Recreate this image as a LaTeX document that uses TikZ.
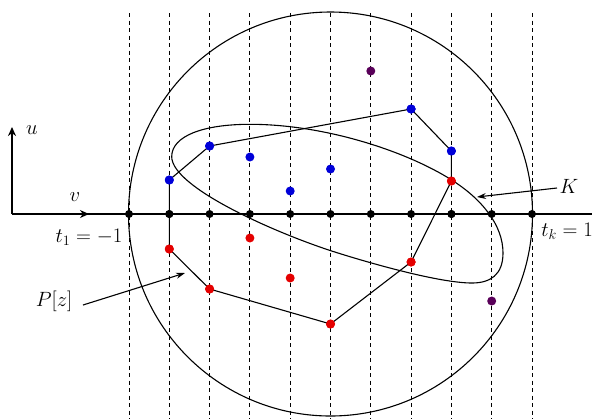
\documentclass[tikz,border=0pt]{standalone}
\usetikzlibrary{arrows.meta}
\begin{document}
\begin{tikzpicture}[x=1bp,y=-1bp,
  grid/.style={dashed,dash pattern=on 4bp off 3.5bp,line width=0.9bp},
  axdot/.style={circle,fill=black,inner sep=0pt,minimum size=8bp},
  bdot/.style={circle,fill=blue!85!black,inner sep=0pt,minimum size=9bp},
  rdot/.style={circle,fill=red!90!black,inner sep=0pt,minimum size=9bp},
  pdot/.style={circle,fill=violet!70!black,inner sep=0pt,minimum size=9bp},
  poly/.style={line width=1.1bp},
  thickarrow/.style={line width=1.8bp,-{Stealth[length=9bp,width=8bp]}},
  lbl/.style={font=\fontsize{21}{24}\selectfont,inner sep=1bp},
  ptr/.style={line width=1.1bp,-{Stealth[length=9bp,width=6bp]}}]
\useasboundingbox (0,0) rectangle (595,419);
% dashed vertical lines
\foreach \i in {0,...,10}{
  \draw[grid] (129+40.3*\i,13) -- (129+40.3*\i,419);
}
% circle
\draw[line width=1.1bp] (330.5,214) circle (202);
% axis
\draw[line width=1.2bp] (12,214) -- (592,214);
% u, v arrows
\coordinate (o) at (12,214);
\coordinate (ue) at (12,127);
\coordinate (ve) at (89,214);
\draw[thickarrow] (o) -- (ue);
\draw[thickarrow] (o) -- (ve);
\node[lbl] (ul) at (32,130) {$u$};
\node[lbl] (vl) at (75,197) {$v$};
% closed curve K
\coordinate (kL) at (171.7,156.7);
\coordinate (kT) at (250,124.3);
\coordinate (kM) at (451.7,180);
\coordinate (kR) at (503,253);
\coordinate (kB) at (472,283);
\coordinate (kN) at (338,253);
\draw[line width=1.1bp] (kL) .. controls (171.7,136) and (203,124.3) .. (kT)
  .. controls (325,124.3) and (406.7,151.4) .. (kM)
  .. controls (481.7,199) and (503,225) .. (kR)
  .. controls (503,275) and (490,283) .. (kB)
  .. controls (440,283) and (373,264) .. (kN)
  .. controls (280,235) and (171.7,188) .. (kL) -- cycle;
% axis dots
\foreach \i in {0,...,10}{
  \node[axdot] (a\i) at (129+40.3*\i,214) {};
}
% points
\node[bdot] (b1) at (169.3,180) {};
\node[bdot] (b2) at (209.6,146) {};
\node[bdot] (b3) at (249.9,157) {};
\node[bdot] (b4) at (290.2,191) {};
\node[bdot] (b5) at (330.5,169) {};
\node[bdot] (b7) at (411.1,109) {};
\node[bdot] (b8) at (451.4,151) {};
\node[rdot] (r1) at (169.3,249) {};
\node[rdot] (r2) at (209.6,289) {};
\node[rdot] (r3) at (249.9,238) {};
\node[rdot] (r4) at (290.2,278) {};
\node[rdot] (r5) at (330.5,324) {};
\node[rdot] (r7) at (411.1,262) {};
\node[rdot] (r8) at (451.4,181) {};
\node[pdot] (p6) at (370.8,71) {};
\node[pdot] (p9) at (491.7,301) {};
% polygon P[z]
\draw[poly] (b1.center) -- (b2.center) -- (b7.center) -- (b8.center) -- (r8.center)
  -- (r7.center) -- (r5.center) -- (r2.center) -- (r1.center) -- cycle;
% redraw dots on top
\foreach \n in {b1,b2,b7,b8}{\fill[blue!85!black] (\n) circle (4.5);}
\foreach \n in {r1,r2,r5,r7,r8}{\fill[red!90!black] (\n) circle (4.5);}
\foreach \i in {1,8}{\fill (a\i) circle (4);}
% labels
\node[lbl] (t1) at (89,237) {$t_1=-1$};
\node[lbl,anchor=east] (tk) at (594,231) {$t_k=1$};
\node[lbl] (K) at (569,186) {$K$};
\coordinate (kt) at (557,188);
\coordinate (kh) at (477,197);
\draw[ptr] (kt) -- (kh);
\node[lbl] (P) at (54,301) {$P[z]$};
\coordinate (pt) at (83,305);
\coordinate (ph) at (185,273);
\draw[ptr] (pt) -- (ph);
\end{tikzpicture}
\end{document}
